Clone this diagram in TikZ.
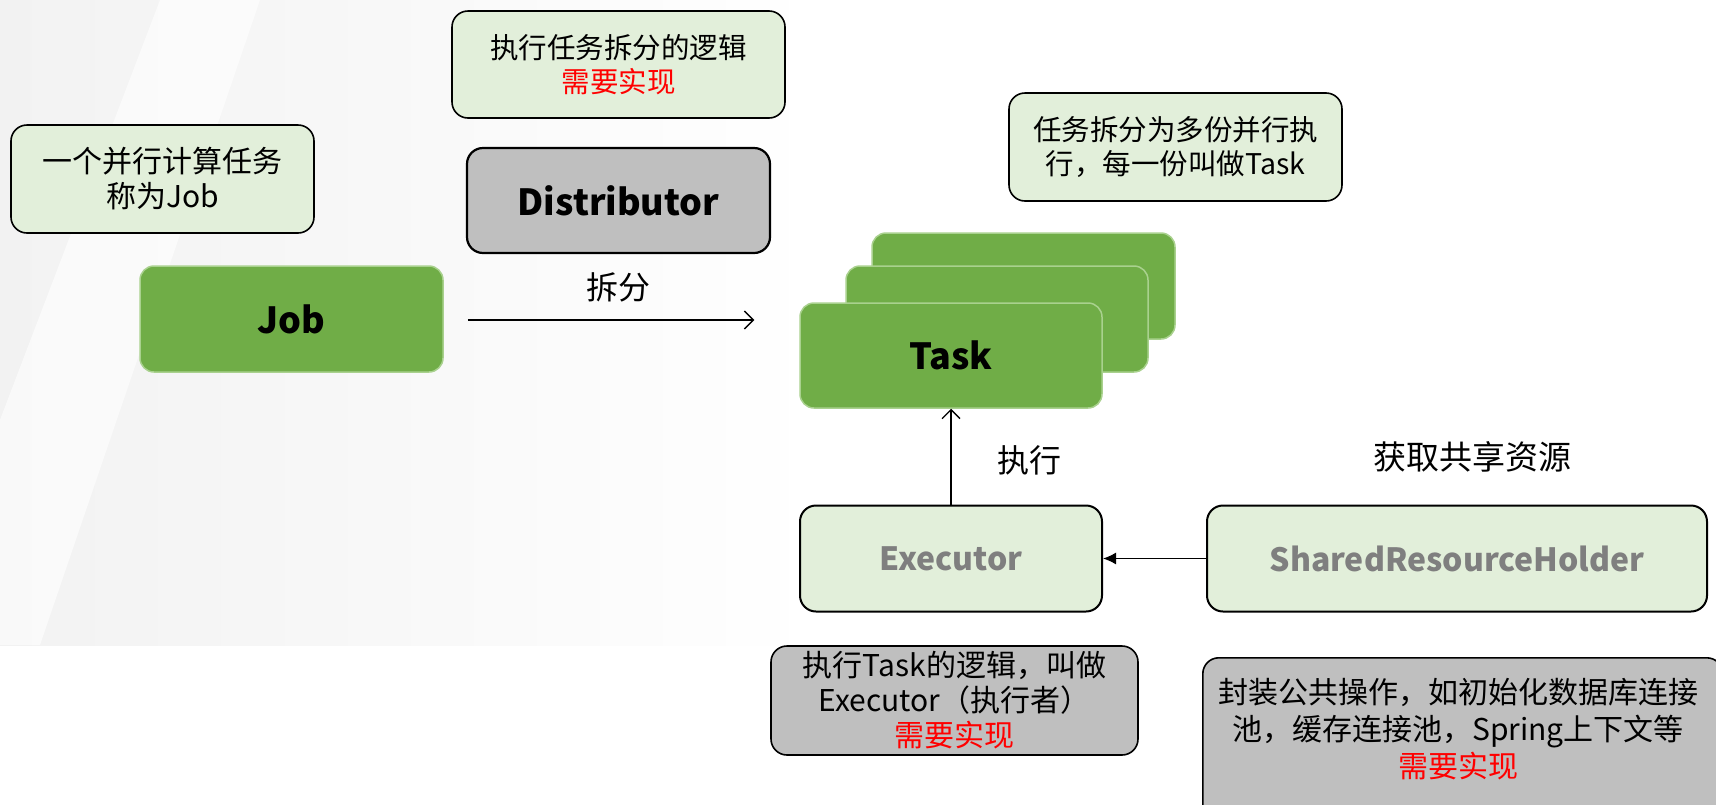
\documentclass[tikz,border=0pt]{standalone}
\usepackage{fontspec}
\setmainfont{Noto Sans CJK SC}
\usetikzlibrary{arrows.meta,calc}
\definecolor{notegreen}{HTML}{E2EFDA}
\definecolor{boxgreen}{HTML}{70AD47}
\definecolor{boxgreenedge}{HTML}{A9D18E}
\definecolor{boxgray}{HTML}{BFBFBF}
\definecolor{txtgray}{HTML}{7F7F7F}
\definecolor{bgshade}{HTML}{F2F2F2}
\tikzset{
  note/.style={draw=black, line width=1.6pt, fill=notegreen, rounded corners=16pt, align=center, font=\fontsize{28.5}{34}\selectfont, inner sep=0pt},
  graynote/.style={note, fill=boxgray},
  greenbox/.style={draw=boxgreenedge, line width=1.5pt, fill=boxgreen, rounded corners=14pt, font=\fontsize{36}{40}\selectfont\bfseries, inner sep=0pt},
  lightbox/.style={draw=black, line width=2pt, fill=notegreen, rounded corners=16pt, font=\fontsize{32}{36}\selectfont\bfseries, text=txtgray, inner sep=0pt},
  distbox/.style={draw=black, line width=2.2pt, fill=boxgray, rounded corners=16pt, font=\fontsize{36}{40}\selectfont\bfseries, inner sep=0pt},
  lbl/.style={font=\fontsize{32}{36}\selectfont, inner sep=0pt},
  openarrow/.style={line width=1.3pt, -{Straight Barb[length=9pt,width=18pt]}},
  filledarrow/.style={line width=1.3pt, -{Latex[length=13pt,width=12pt]}},
}
\newcommand{\red}[1]{\textcolor{red}{#1}}
\begin{document}
\begin{tikzpicture}[x=1pt,y=-1pt]
\useasboundingbox (0,0) rectangle (1716,804);
\clip (0,0) rectangle (1716,804);
% faint background
\shade[left color=bgshade, right color=white] (0,0) rectangle (820,645);
\fill[white, opacity=0.6] (160,0) -- (260,0) -- (40,645) -- (0,645) -- (0,420) -- cycle;

% left notes and Job
\node[note, font=\fontsize{30}{35}\selectfont, minimum width=303pt, minimum height=108pt] (jobnote) at (162.5,179) {一个并行计算任务\\称为Job};
\node[greenbox, minimum width=303pt, minimum height=106pt] (job) at (291.5,319) {Job};

% Distributor
\node[note, minimum width=333pt, minimum height=107pt] (distnote) at (618.5,64.5) {执行任务拆分的逻辑\\\red{需要实现}};
\node[distbox, minimum width=303pt, minimum height=105pt] (dist) at (618.5,200.5) {Distributor};

% Task stack
\node[greenbox, minimum width=303pt, minimum height=106pt] (task3) at (1023.5,286) {};
\node[greenbox, minimum width=302pt, minimum height=106pt] (task2) at (997,319) {};
\node[greenbox, minimum width=302pt, minimum height=105pt] (task1) at (951,355.5) {Task};
\node[note, minimum width=333pt, minimum height=108pt] (tasknote) at (1175.5,147) {任务拆分为多份并行执\\行，每一份叫做Task};

% Executor and SharedResourceHolder
\node[lightbox, minimum width=302pt, minimum height=106pt] (exec) at (951,558.5) {Executor};
\node[lightbox, minimum width=500pt, minimum height=106pt] (srh) at (1457,558.5) {SharedResourceHolder};

\node[graynote, font=\fontsize{30}{35}\selectfont, minimum width=367pt, minimum height=109pt] (execnote) at (954.5,700.5) {执行Task的逻辑，叫做\\Executor（执行者）\\\red{需要实现}};
\node[graynote, minimum width=520pt, minimum height=174pt, anchor=north west] (srhnote) at (1202,657) {};
\node[font=\fontsize{30}{37}\selectfont, align=center, inner sep=0pt] (srhtext) at (1458,729) {封装公共操作，如初始化数据库连接\\池，缓存连接池，Spring上下文等\\\red{需要实现}};

% connectors
\coordinate (splitstart) at ($(job.east)+(24,1)$);
\coordinate (splitend) at ($(task1.west|-splitstart)+(-45,0)$);
\draw[openarrow] (splitstart) -- (splitend);
\node[lbl] (splitlbl) at (618,287) {拆分};

\draw[openarrow] (exec.north) -- (task1.south);
\node[lbl] (execlbl) at (1029,460) {执行};

\draw[filledarrow] (srh.west) -- (exec.east);
\node[lbl, font=\fontsize{33}{36}\selectfont] (srhlbl) at (1472,457) {获取共享资源};
\end{tikzpicture}
\end{document}
